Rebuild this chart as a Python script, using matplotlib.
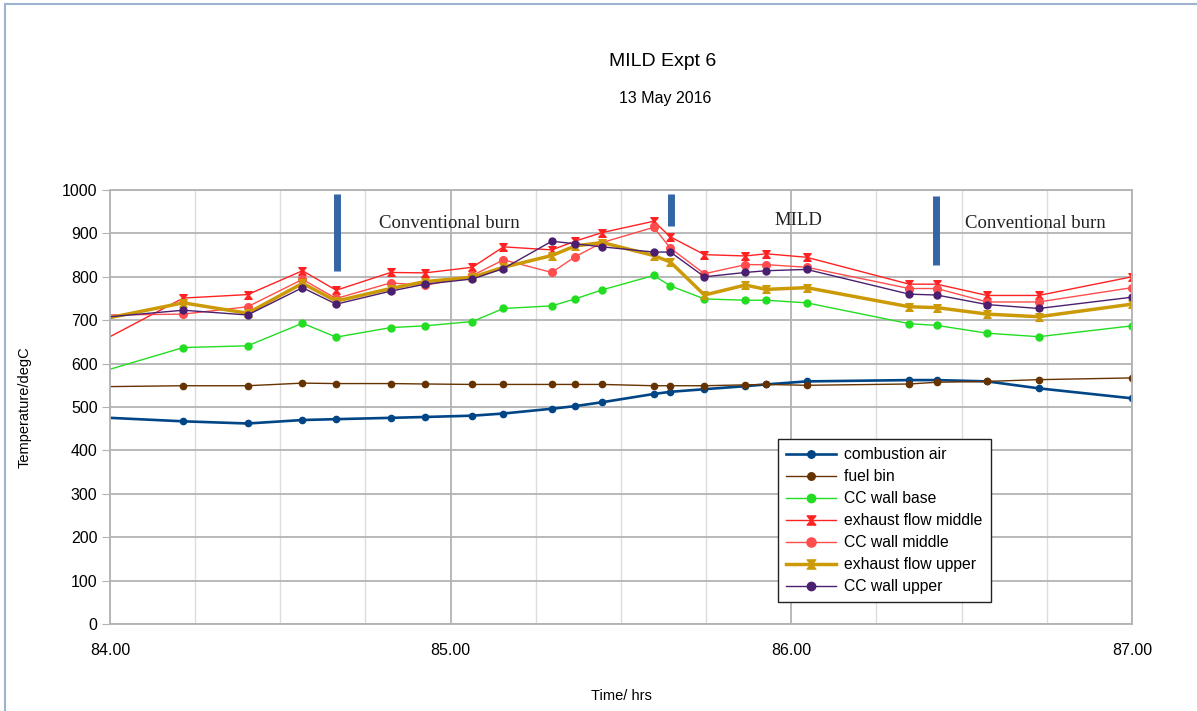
import matplotlib
matplotlib.use("Agg")
import matplotlib.pyplot as plt
from matplotlib.patches import Rectangle
from matplotlib.ticker import MultipleLocator, FixedLocator, FormatStrFormatter

# ---- data ----
time_hrs = [84.0, 84.215, 84.404, 84.565, 84.664, 84.824, 84.925, 85.064, 85.155,
            85.297, 85.365, 85.445, 85.596, 85.645, 85.745, 85.865, 85.926, 86.045,
            86.346, 86.427, 86.575, 86.726, 87.0]

combustion_air = [475, 467, 462, 470, 472, 475, 477, 480, 485, 496, 502, 511, 530,
                  535, 541, 548, 552, 559, 562, 562, 559, 543, 520]
fuel_bin = [547, 549, 549, 555, 554, 554, 553, 552, 552, 552, 552, 552, 549,
            549, 549, 551, 552, 550, 553, 557, 559, 563, 567]
cc_wall_base = [587, 637, 641, 693, 661, 683, 687, 697, 727, 733, 749, 770, 803,
                779, 749, 746, 746, 740, 692, 688, 670, 662, 687]
exhaust_flow_middle = [662, 751, 759, 814, 769, 810, 809, 822, 869, 862, 882, 902, 928,
                       892, 851, 848, 853, 845, 783, 783, 757, 757, 800]
cc_wall_middle = [712, 714, 731, 794, 750, 786, 780, 803, 839, 810, 846, 879, 914,
                  866, 807, 828, 828, 822, 773, 773, 742, 742, 775]
exhaust_flow_upper = [706, 740, 716, 785, 744, 773, 789, 799, 822, 849, 871, 879, 849,
                      834, 758, 781, 771, 775, 731, 729, 714, 708, 737]
cc_wall_upper = [708, 723, 712, 775, 737, 767, 783, 795, 819, 882, 876, 869, 857,
                 857, 800, 810, 814, 817, 760, 758, 736, 727, 753]

phase_marks_x = [84.665, 85.648, 86.425]
phase_marks_lo = [813, 917, 827]
phase_marks_hi = [991, 991, 986]
phase_labels = ["Conventional burn", "MILD", "Conventional burn"]
phase_label_x = [84.79, 85.95, 86.51]
phase_label_y = [923, 930, 923]

x_ticks = [84.0, 85.0, 86.0, 87.0]
y_ticks = list(range(0, 1001, 100))

# ---- figure ----
fig = plt.figure(figsize=(11.97, 7.11), dpi=100)
plt.rcParams['font.family'] = ['Liberation Sans', 'DejaVu Sans']
ax = fig.add_axes([110/1197, 1-624/711, 1022/1197, 434/711])

fig.patches.append(Rectangle((5/1197, -0.01), 1.02, 1-4/711+0.01, transform=fig.transFigure,
                             fill=False, edgecolor='#9fb3cf', linewidth=1.5))

series = [
    ("combustion air", combustion_air, dict(color='#004586', lw=1.9, marker='o', ms=4.5)),
    ("fuel bin", fuel_bin, dict(color='#663300', lw=1.0, marker='o', ms=4.5)),
    ("CC wall base", cc_wall_base, dict(color='#22dd22', lw=1.0, marker='o', ms=5)),
    ("exhaust flow middle", exhaust_flow_middle, dict(color='#ff2222', lw=1.0, marker='$\u29D7$', ms=5.5)),
    ("CC wall middle", cc_wall_middle, dict(color='#ff4d4d', lw=1.0, marker='o', ms=5.5)),
    ("exhaust flow upper", exhaust_flow_upper, dict(color='#cc9a06', lw=2.5, marker='$\u29D7$', ms=5.5)),
    ("CC wall upper", cc_wall_upper, dict(color='#4b1f6f', lw=1.0, marker='o', ms=5)),
]
for name, vals, st in series:
    ax.plot(time_hrs, vals, label=name, markevery=slice(1, None), clip_on=True, **st)

for xm, lo, hi in zip(phase_marks_x, phase_marks_lo, phase_marks_hi):
    ax.plot([xm, xm], [lo, hi], color='#3465a4', lw=5, solid_capstyle='butt')
for lbl, lx, ly in zip(phase_labels, phase_label_x, phase_label_y):
    ax.text(lx, ly, lbl, family=['Liberation Serif', 'DejaVu Serif'], fontsize=13.5,
            color='#222222', va='center', ha='left')

ax.set_xlim(84.0, 87.0)
ax.set_ylim(0, 1000)
ax.xaxis.set_major_locator(FixedLocator(x_ticks))
ax.xaxis.set_major_formatter(FormatStrFormatter('%.2f'))
ax.xaxis.set_minor_locator(MultipleLocator(0.25))
ax.yaxis.set_major_locator(FixedLocator(y_ticks))
ax.grid(True, which='major', axis='both', color='#b3b3b3', lw=1.3, zorder=0)
ax.grid(True, which='minor', axis='x', color='#dcdcdc', lw=1.0, zorder=0)
ax.set_axisbelow(True)
for s in ax.spines.values():
    s.set_color('#b3b3b3')
    s.set_linewidth(1.3)
ax.tick_params(axis='y', which='major', length=6, color='#b3b3b3', labelsize=11.5, pad=3)
ax.tick_params(axis='x', which='major', length=0, labelsize=11.5, pad=14)
ax.tick_params(axis='x', which='minor', length=0)

ax.set_xlabel('Time/ hrs', fontsize=10.5, labelpad=22)
ax.set_ylabel('Temperature/degC', fontsize=10.5, labelpad=22)

fig.text(663/1197, 1-62/711, 'MILD Expt 6', ha='center', va='center', fontsize=14)
fig.text(665/1197, 1-98/711, '13 May 2016', ha='center', va='center', fontsize=11.5)

leg = ax.legend(loc='lower left', bbox_to_anchor=(0.654, 0.05), fontsize=11.3,
                frameon=True, fancybox=False, framealpha=1, edgecolor='#222222',
                handlelength=3.2, handletextpad=0.5, labelspacing=0.45, borderpad=0.5,
                borderaxespad=0, markerscale=1.2)
leg.get_frame().set_linewidth(1.0)

fig.savefig('out.png', dpi=100)
